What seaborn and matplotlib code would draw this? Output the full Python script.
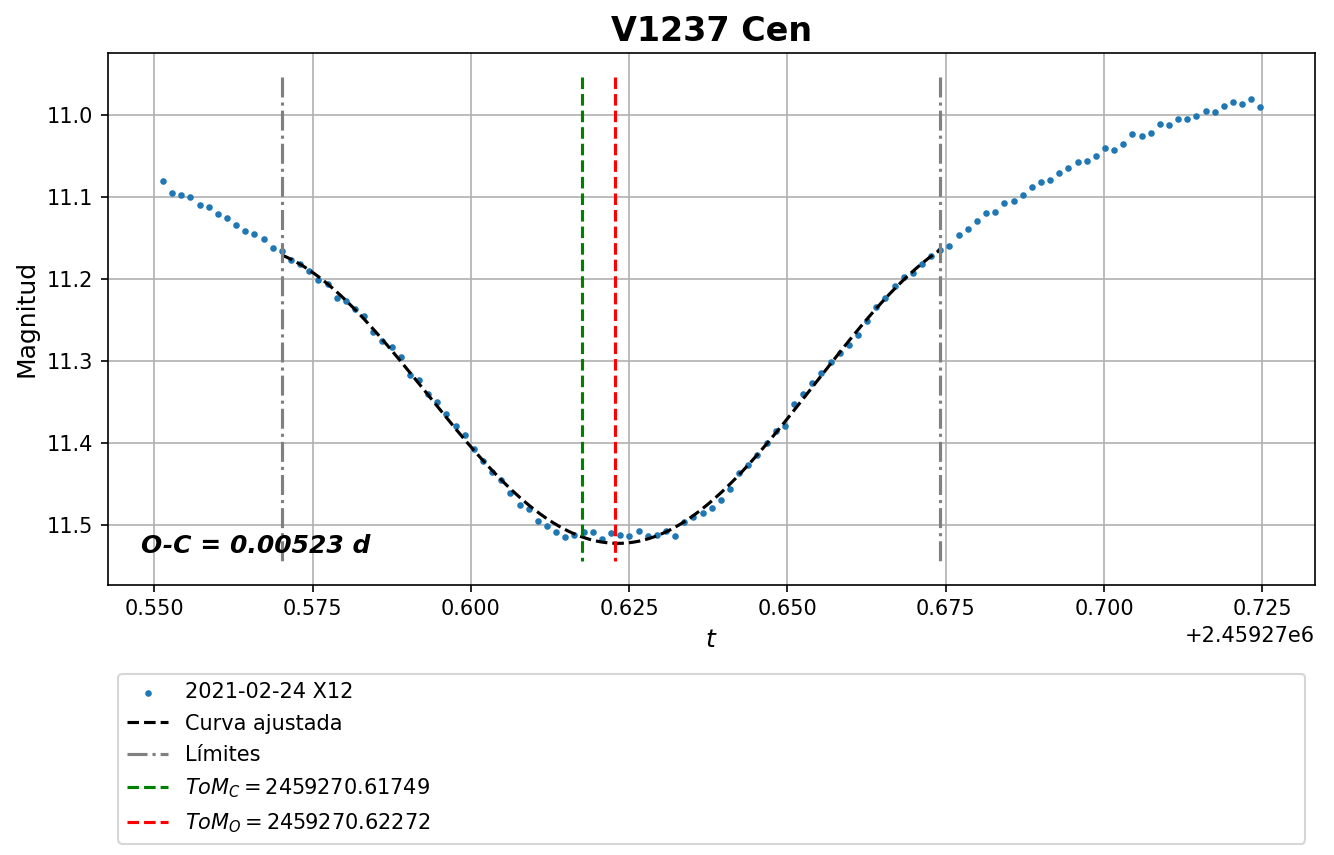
import numpy as np
import pandas as pd
import matplotlib
matplotlib.use('Agg')
import matplotlib.pyplot as plt
import seaborn as sns

# JD = 2459270 + fraction
jd0 = 2459270
t_frac = [
    0.55136, 0.55280, 0.55425, 0.55569, 0.55714, 0.55858, 0.56003, 0.56147, 0.56292, 0.56436,
    0.56581, 0.56725, 0.56870, 0.57014, 0.57159, 0.57303, 0.57448, 0.57592, 0.57736, 0.57881,
    0.58025, 0.58170, 0.58314, 0.58459, 0.58603, 0.58748, 0.58892, 0.59037, 0.59181, 0.59326,
    0.59470, 0.59615, 0.59759, 0.59904, 0.60048, 0.60192, 0.60337, 0.60481, 0.60626, 0.60770,
    0.60915, 0.61059, 0.61204, 0.61348, 0.61493, 0.61637, 0.61782, 0.61926, 0.62071, 0.62215,
    0.62360, 0.62504, 0.62648, 0.62793, 0.62937, 0.63082, 0.63226, 0.63371, 0.63515, 0.63660,
    0.63804, 0.63949, 0.64093, 0.64238, 0.64382, 0.64527, 0.64671, 0.64815, 0.64960, 0.65104,
    0.65249, 0.65393, 0.65538, 0.65682, 0.65827, 0.65971, 0.66116, 0.66260, 0.66405, 0.66549,
    0.66694, 0.66838, 0.66983, 0.67127, 0.67271, 0.67416, 0.67560, 0.67705, 0.67849, 0.67994,
    0.68138, 0.68283, 0.68427, 0.68572, 0.68716, 0.68861, 0.69005, 0.69150, 0.69294, 0.69439,
    0.69583, 0.69727, 0.69872, 0.70016, 0.70161, 0.70305, 0.70450, 0.70594, 0.70739, 0.70883,
    0.71028, 0.71172, 0.71317, 0.71461, 0.71606, 0.71750, 0.71895, 0.72039, 0.72183, 0.72328,
    0.72472,
]
mag = [
    11.081, 11.096, 11.098, 11.100, 11.110, 11.112, 11.121, 11.126, 11.134, 11.142,
    11.146, 11.151, 11.162, 11.166, 11.177, 11.182, 11.191, 11.202, 11.206, 11.223,
    11.227, 11.237, 11.246, 11.265, 11.276, 11.283, 11.295, 11.318, 11.324, 11.341,
    11.350, 11.365, 11.380, 11.391, 11.408, 11.422, 11.436, 11.446, 11.461, 11.476,
    11.481, 11.496, 11.501, 11.509, 11.515, 11.512, 11.509, 11.509, 11.517, 11.510,
    11.512, 11.514, 11.508, 11.514, 11.513, 11.508, 11.514, 11.497, 11.490, 11.486,
    11.479, 11.470, 11.457, 11.437, 11.427, 11.415, 11.400, 11.386, 11.380, 11.353,
    11.341, 11.327, 11.315, 11.301, 11.290, 11.281, 11.269, 11.251, 11.235, 11.224,
    11.209, 11.198, 11.193, 11.182, 11.172, 11.165, 11.160, 11.147, 11.139, 11.130,
    11.120, 11.119, 11.108, 11.105, 11.098, 11.088, 11.082, 11.079, 11.071, 11.065,
    11.058, 11.056, 11.050, 11.041, 11.043, 11.036, 11.023, 11.026, 11.022, 11.011,
    11.012, 11.005, 11.005, 11.001, 10.996, 10.997, 10.989, 10.985, 10.987, 10.981,
    10.991,
]
lim_lo, lim_hi = 13, 85
tom_c = 2459270.61749
tom_o = 2459270.62272
o_c = 0.00523

df = pd.DataFrame({'t': jd0 + np.array(t_frac), 'mag': mag})

fig = plt.figure(figsize=(1334 / 150, 855 / 150), dpi=150)
ax = fig.add_axes([0.081, 0.316, 0.905, 0.622])

sns.scatterplot(data=df, x='t', y='mag', s=10, linewidth=0, color='#1f77b4',
                label='2021-02-24 X12', ax=ax, zorder=2)

# polynomial fit inside the limits
win = df.iloc[lim_lo:lim_hi + 1]
xc = win['t'].mean()
hw = (win['t'].iloc[-1] - win['t'].iloc[0]) / 2
coefs = np.polyfit((win['t'] - xc) / hw, win['mag'], 6)
tt = np.linspace(win['t'].iloc[0], win['t'].iloc[-1], 300)
ax.plot(tt, np.polyval(coefs, (tt - xc) / hw), 'k--', label='Curva ajustada')

rng = df['mag'].max() - df['mag'].min()
y0 = df['mag'].min() - 0.05 * rng
y1 = df['mag'].max() + 0.05 * rng
t_lo = df['t'].iloc[lim_lo]
t_hi = df['t'].iloc[lim_hi]
ax.plot([t_lo, t_lo], [y0, y1], '-.', color='gray', label='Límites')
ax.plot([t_hi, t_hi], [y0, y1], '-.', color='gray', label='_nolegend_')
ax.plot([tom_c, tom_c], [y0, y1], '--', color='green', label=r'$ToM_C = %.5f$' % tom_c)
ax.plot([tom_o, tom_o], [y0, y1], '--', color='red', label=r'$ToM_O = %.5f$' % tom_o)

ax.invert_yaxis()
ax.grid(True)
ax.set_title('V1237 Cen', fontsize=16, fontweight='bold')
ax.set_xlabel('$t$', fontsize=12)
ax.set_ylabel('Magnitud', fontsize=12)
ax.text(0.027, 0.06, 'O-C = %.5f d' % o_c, transform=ax.transAxes,
        fontsize=12, fontweight='bold', fontstyle='italic')

ax.legend(loc='upper left', bbox_to_anchor=(0, -0.148, 1, 0), mode='expand',
          borderaxespad=0.5, fontsize=10, labelspacing=0.55)

fig.savefig('out.png', dpi=150)
